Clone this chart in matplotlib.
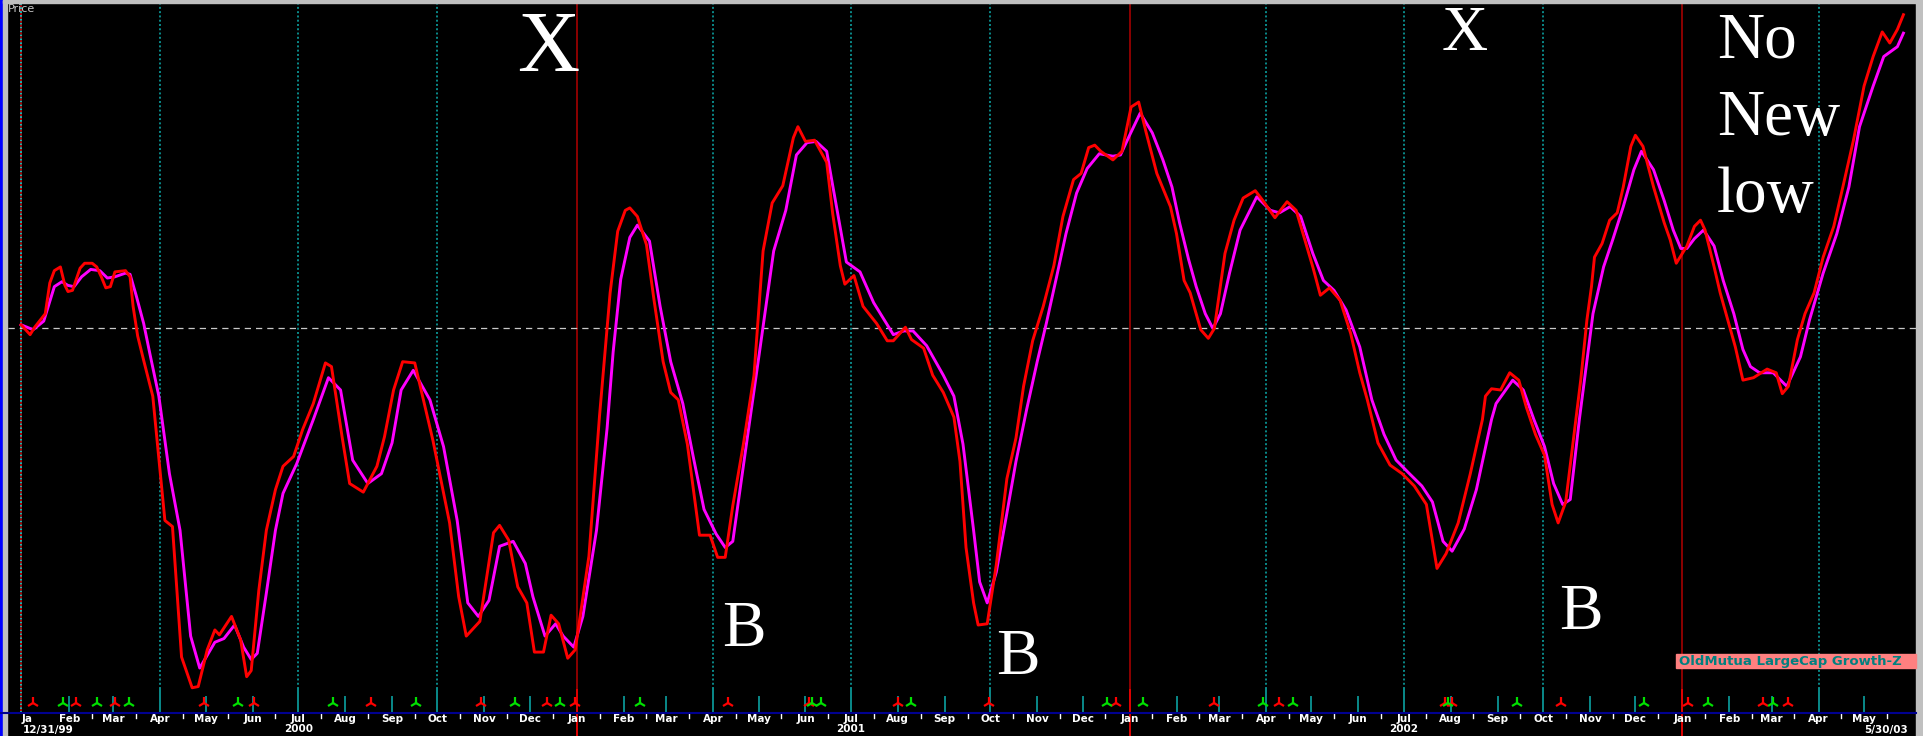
import matplotlib
matplotlib.use("Agg")
import matplotlib.pyplot as plt
import matplotlib.dates as mdates
from matplotlib.transforms import blended_transform_factory
from matplotlib.patches import Rectangle
import pandas as pd

# ---- data ----
start = pd.Timestamp("1999-12-31")
end = pd.Timestamp("2003-05-30")

# price line: days since 12/31/99 and value (arbitrary units, no scale shown)
days = [0, 6, 9, 16, 19, 22, 26, 29, 31, 34, 39, 42, 47, 50, 53, 56, 59, 62, 69, 72,
        74, 77, 81, 87, 95, 100, 106, 113, 117, 123, 128, 131, 139, 145, 149, 152, 157, 162, 168, 173,
        180, 186, 193, 201, 205, 212, 217, 226, 235, 240, 246, 252, 260, 272, 283, 289, 294, 303, 312, 316,
        322, 328, 334, 339, 345, 350, 355, 361, 366, 375, 382, 389, 394, 399, 402, 407, 413, 418, 424, 429,
        434, 440, 446, 448, 455, 460, 465, 470, 477, 484, 490, 496, 503, 510, 513, 518, 524, 532, 536, 541,
        544, 550, 556, 565, 572, 576, 584, 588, 596, 602, 609, 616, 620, 624, 629, 632, 638, 644, 651, 657,
        662, 668, 675, 682, 688, 695, 700, 705, 709, 713, 721, 727, 733, 738, 743, 750, 759, 763, 768, 772,
        779, 784, 788, 795, 801, 807, 815, 820, 828, 831, 836, 842, 847, 853, 858, 864, 871, 878, 884, 889,
        896, 904, 912, 920, 928, 935, 941, 949, 957, 965, 967, 971, 977, 983, 989, 994, 1000, 1006, 1011, 1015,
        1020, 1026, 1030, 1034, 1037, 1039, 1044, 1049, 1054, 1058, 1063, 1066, 1071, 1078, 1085, 1089, 1093, 1100, 1105, 1109,
        1112, 1118, 1122, 1127, 1132, 1137, 1144, 1153, 1159, 1163, 1167, 1173, 1178, 1184, 1190, 1197, 1203, 1210, 1217, 1223,
        1229, 1234, 1239, 1243]
price = [334, 326, 332, 343, 368, 378, 381, 366, 361, 362, 380, 384, 384, 381, 373, 364, 365, 377, 378, 373,
         349, 325, 305, 276, 175, 170, 64, 39, 40, 70, 86, 82, 97, 78, 48, 53, 118, 167, 200, 219,
         227, 249, 270, 303, 300, 243, 205, 198, 219, 243, 281, 304, 303, 240, 173, 113, 81, 93, 165, 171,
         159, 121, 108, 68, 68, 98, 91, 63, 70, 146, 260, 360, 410, 427, 429, 422, 399, 354, 304, 279,
         273, 237, 181, 163, 163, 145, 145, 187, 237, 293, 394, 433, 447, 486, 495, 483, 484, 466, 424, 382,
         367, 374, 349, 335, 321, 321, 332, 322, 315, 293, 279, 259, 223, 153, 108, 90, 91, 139, 209, 242,
         284, 321, 349, 382, 422, 452, 457, 478, 480, 475, 468, 475, 511, 515, 490, 457, 430, 408, 370, 360,
         330, 323, 331, 392, 419, 437, 443, 435, 421, 426, 434, 427, 406, 381, 358, 364, 354, 327, 295, 273,
         238, 220, 213, 203, 188, 136, 148, 173, 213, 257, 276, 282, 281, 295, 289, 267, 245, 228, 188, 173,
         190, 250, 290, 338, 365, 389, 400, 419, 425, 446, 479, 488, 479, 446, 417, 403, 384, 398, 414, 419,
         411, 381, 360, 338, 316, 289, 291, 298, 295, 278, 284, 322, 343, 360, 389, 414, 446, 484, 528, 552,
         572, 563, 574, 586]

# moving average line
avg_days = [0, 8, 15, 22, 27, 31, 35, 40, 46, 52, 57, 62, 69, 72, 76, 81, 85, 91, 98, 105,
            112, 118, 128, 134, 141, 147, 152, 156, 162, 168, 173, 182, 193, 203, 211, 219, 229, 238, 245, 251,
            259, 270, 279, 288, 295, 302, 309, 316, 325, 333, 338, 346, 353, 358, 365, 371, 380, 387, 391, 396,
            402, 407, 415, 422, 429, 437, 444, 451, 459, 465, 470, 479, 488, 497, 505, 512, 519, 525, 532, 536,
            545, 554, 563, 576, 583, 589, 598, 609, 616, 622, 629, 633, 638, 644, 651, 657, 664, 671, 677, 684,
            690, 697, 704, 712, 721, 726, 732, 739, 747, 754, 760, 765, 771, 776, 782, 787, 792, 798, 805, 816,
            825, 831, 838, 845, 853, 860, 867, 875, 884, 892, 900, 908, 916, 925, 932, 939, 945, 953, 961, 971,
            974, 985, 992, 999, 1006, 1012, 1018, 1023, 1029, 1038, 1045, 1051, 1058, 1065, 1070, 1078, 1085, 1091, 1096, 1100,
            1105, 1111, 1118, 1124, 1131, 1137, 1142, 1148, 1157, 1166, 1175, 1181, 1190, 1199, 1207, 1214, 1223, 1230, 1239, 1243]
avg = [334, 330, 337, 365, 369, 366, 365, 373, 379, 378, 372, 373, 376, 375, 358, 335, 311, 276, 213, 167,
       81, 55, 76, 79, 90, 72, 62, 67, 116, 167, 197, 221, 257, 291, 281, 224, 205, 213, 238, 281,
       297, 273, 235, 175, 108, 97, 110, 154, 158, 140, 113, 81, 91, 81, 72, 97, 167, 250, 312, 371,
       405, 415, 402, 349, 304, 270, 226, 184, 164, 153, 158, 237, 315, 394, 427, 472, 482, 483, 475, 447,
       385, 377, 352, 326, 329, 329, 317, 293, 276, 237, 167, 125, 108, 133, 181, 223, 265, 304, 335, 374,
       408, 441, 461, 473, 471, 472, 488, 506, 490, 468, 446, 417, 387, 365, 343, 331, 343, 376, 411, 438,
       427, 425, 430, 422, 392, 370, 362, 346, 316, 273, 245, 224, 214, 203, 190, 158, 150, 168, 200, 257,
       270, 289, 281, 257, 235, 205, 188, 192, 257, 343, 381, 403, 430, 460, 475, 460, 435, 411, 396, 396,
       404, 411, 398, 370, 343, 314, 300, 295, 295, 284, 308, 338, 376, 408, 446, 495, 528, 552, 560, 571]

ref_level = 331

red_signals = ["2000-01-08", "2000-02-05", "2000-03-02", "2000-04-30", "2000-06-02", "2000-08-18",
               "2000-10-30", "2000-12-12", "2000-12-31", "2001-04-11", "2001-06-03", "2001-08-01",
               "2001-09-30", "2001-12-23", "2002-02-26", "2002-04-10", "2002-07-28", "2002-08-02",
               "2002-10-13", "2003-01-05", "2003-02-23", "2003-03-12"]
green_signals = ["2000-01-28", "2000-02-19", "2000-03-11", "2000-05-22", "2000-07-24", "2000-09-17",
                 "2000-11-21", "2000-12-21", "2001-02-12", "2001-06-05", "2001-06-11", "2001-08-10",
                 "2001-12-17", "2002-01-10", "2002-03-30", "2002-04-19", "2002-07-30", "2002-09-14",
                 "2002-12-07", "2003-01-18", "2003-03-02"]

month_names = ["Jan", "Feb", "Mar", "Apr", "May", "Jun", "Jul", "Aug", "Sep", "Oct", "Nov", "Dec"]
fund_name = "OldMutua LargeCap Growth-Z"

# ---- figure ----
W, H = 1923, 736
fig = plt.figure(figsize=(W / 100, H / 100), dpi=100, facecolor="black")


def fx(px):
    return px / W


def fy(py):
    return 1 - py / H


ax = fig.add_axes([fx(8), fy(713), fx(1916) - fx(8), fy(4) - fy(713)])
ax.set_facecolor("black")
for s in ax.spines.values():
    s.set_visible(False)
ax.set_xticks([])
ax.set_yticks([])

d0 = mdates.date2num(start)
x = [d0 + d for d in days]
xa = [d0 + d for d in avg_days]
ax.set_xlim(d0 - 8.6, d0 + 1251.3)
ax.set_ylim(18.5, 594.7)

data_fig = blended_transform_factory(ax.transData, fig.transFigure)
data_axes = blended_transform_factory(ax.transData, ax.transAxes)

teal = "#0a8a8a"
months = pd.date_range("2000-02-01", "2003-05-01", freq="MS")
for m in months:
    mx = mdates.date2num(m)
    if m.month == 1:
        ax.axvline(mx, color="#8c0000", lw=1.4, zorder=1)
        ax.plot([mx, mx], [0, fy(690)], transform=data_fig, color="#e00000",
                lw=1.4, clip_on=False, zorder=2)
    elif m.month in (4, 7, 10):
        ax.axvline(mx, ymin=0.034, ymax=1, color=teal, lw=1.4, ls=(0, (1, 1.2)), zorder=1)
        ax.axvline(mx, ymin=0, ymax=0.034, color=teal, lw=1.4, zorder=1)
    else:
        ax.axvline(mx, ymin=0, ymax=0.0226, color=teal, lw=1.4, zorder=1)

# start line, red/cyan dotted
ax.axvline(d0, color="#10c0c0", lw=1.4, ls=(0, (1, 1)), zorder=1)
ax.axvline(d0, color="#c00000", lw=1.4, ls=(1, (1, 1)), zorder=1)

ax.axhline(ref_level, color="#c8c8c8", lw=0.9, ls=(0, (5, 4)), zorder=1)

ax.plot(xa, avg, color="#ff00ff", lw=2.1, zorder=3)
ax.plot(x, price, color="#ff0000", lw=2.1, zorder=4)

rs = [mdates.date2num(pd.Timestamp(s)) for s in red_signals]
gs = [mdates.date2num(pd.Timestamp(s)) for s in green_signals]
ax.plot(rs, [0.014] * len(rs), transform=data_axes, ls="none", marker="2",
        color="#ff0000", ms=8.5, mew=1.6, zorder=5)
ax.plot(gs, [0.014] * len(gs), transform=data_axes, ls="none", marker="2",
        color="#00e000", ms=8.5, mew=1.6, zorder=5)

# annotations
serif = "Liberation Serif"
ax.text(d0 + 348, 540, "X", fontsize=62, family=serif, color="white", ha="center", va="baseline")
ax.text(d0 + 953, 557, "X", fontsize=46, family=serif, color="white", ha="center", va="baseline")
ax.text(d0 + 477, 73, "B", fontsize=47, family=serif, color="white", ha="center", va="baseline")
ax.text(d0 + 658, 50, "B", fontsize=47, family=serif, color="white", ha="center", va="baseline")
ax.text(d0 + 1030, 87, "B", fontsize=47, family=serif, color="white", ha="center", va="baseline")
for txt, yb in zip(["No", "New", "low"], [551, 488, 426]):
    ax.text(d0 + 1120, yb, txt, fontsize=47, family=serif, color="white", ha="left", va="baseline")

# bottom axis labels
lab = dict(color="white", fontsize=7.5, fontweight="bold", va="center", transform=data_fig, clip_on=False)
ax.text(d0 + 0.5, fy(718.5), "Ja", ha="left", **lab)
for m in months:
    ax.text(mdates.date2num(m), fy(718.5), month_names[m.month - 1], ha="center", **lab)
for m in pd.date_range("2000-01-16", "2003-05-16", freq="MS") + pd.Timedelta(days=15):
    mx = mdates.date2num(m)
    ax.plot([mx, mx], [fy(714), fy(718)], transform=data_fig, color="white", lw=1, clip_on=False)
ax.text(d0 + 1, fy(729.5), start.strftime("%m/%d/%y"), ha="left", **lab)
for yr in (2000, 2001, 2002):
    ax.text(mdates.date2num(pd.Timestamp(f"{yr}-07-01")), fy(729.5), str(yr), ha="center", **lab)
ax.text(mdates.date2num(end), fy(729.5), "5/30/03", ha="right", **lab)

# frame pieces
fig.add_artist(plt.Line2D([0, fx(1916)], [fy(713), fy(713)], color="#000090", lw=1.5))
fig.patches.append(Rectangle((0, 0), fx(3), 1, transform=fig.transFigure, color="#0000ff"))
fig.patches.append(Rectangle((fx(3), 0), fx(4), 1, transform=fig.transFigure, color="#c0c0c0"))
fig.patches.append(Rectangle((fx(3), fy(3)), 1, 3 / H, transform=fig.transFigure, color="#c0c0c0"))
fig.patches.append(Rectangle((fx(1916), 0), fx(7), 1, transform=fig.transFigure, color="#c0c0c0"))
fig.patches.append(Rectangle((fx(1676), fy(668)), fx(1916) - fx(1676), 14 / H,
                             transform=fig.transFigure, color="#ff8080"))
fig.text(fx(1679), fy(661), fund_name, color="#008080", fontsize=9.5, fontweight="bold",
         ha="left", va="center", zorder=10)
fig.text(fx(8), fy(9), "Price", color="#c8c8c8", fontsize=8, ha="left", va="center", zorder=10)

fig.savefig("out.png", dpi=100, facecolor="black")
